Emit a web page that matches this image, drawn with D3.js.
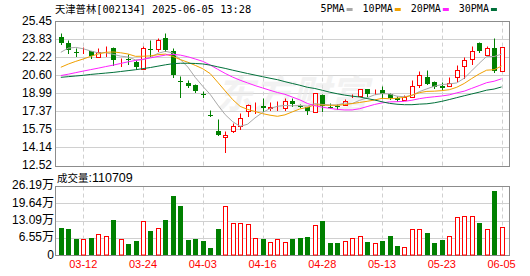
<!DOCTYPE html>
<html>
<head>
<meta charset="utf-8">
<script src="https://cdn.jsdelivr.net/npm/d3@7"></script>
<style>
body{margin:0;background:#fff;}
svg{display:block;}
</style>
</head>
<body>
<div class="chart"></div>
<script>
// -------------------------- DATA

var title = "天津普林[002134] 2025-06-05 13:28";
var volLabel = "成交量";
var volValue = ":110709";

var dates = ["03-07","03-10","03-11","03-12","03-13","03-14","03-17","03-18","03-19","03-20",
  "03-21","03-24","03-25","03-26","03-27","03-28","03-31","04-01","04-02","04-03",
  "04-07","04-08","04-09","04-10","04-11","04-14","04-15","04-16","04-17","04-18",
  "04-21","04-22","04-23","04-24","04-25","04-28","04-29","04-30","05-06","05-07",
  "05-08","05-09","05-12","05-13","05-14","05-15","05-16","05-19","05-20","05-21",
  "05-22","05-23","05-26","05-27","05-28","05-29","05-30","06-03","06-04","06-05"];

var opens = [24.05,23.47,22.72,22.73,22.73,22.25,22.88,23.03,21.88,22.05,
  21.81,21.16,22.98,22.93,23.98,22.79,20.06,19.95,19.75,18.92,
  17.02,15.63,15.09,15.63,16.02,17.42,18.12,17.89,17.70,17.81,
  17.63,18.30,17.88,17.72,17.27,18.85,17.80,17.83,17.96,18.71,
  18.73,19.33,19.06,19.26,18.88,18.52,18.37,18.67,19.71,20.43,
  20.03,19.66,19.66,20.46,21.45,22.04,23.53,22.43,23.00,21.00];

var highs = [24.42,23.80,23.02,23.09,22.77,23.04,23.24,23.12,22.14,22.46,
  22.01,23.20,23.76,23.98,24.34,23.02,20.55,20.16,19.78,19.21,
  17.48,16.67,15.63,16.37,17.18,18.07,18.25,18.55,18.25,18.34,
  18.52,18.54,18.00,17.75,18.99,18.88,18.16,18.01,18.46,18.90,
  19.40,19.38,19.35,19.62,19.03,18.73,18.82,20.22,20.96,21.03,
  20.07,20.04,20.46,21.50,22.25,23.18,23.56,23.24,23.98,23.10];

var lows = [23.38,22.55,22.34,22.55,22.15,22.25,22.34,21.52,21.43,21.65,
  21.18,21.12,22.31,22.79,22.73,20.46,18.61,19.55,19.06,18.61,
  16.98,15.24,13.76,15.55,15.77,16.97,17.20,17.42,17.47,17.53,
  17.45,17.86,17.72,17.12,17.27,17.42,17.65,17.62,17.94,18.61,
  18.70,18.73,18.90,18.58,18.43,18.34,18.37,18.67,19.53,19.80,
  19.42,19.30,19.66,20.10,20.34,21.59,22.64,22.40,20.91,20.95];

var closes = [23.48,22.85,22.68,22.73,22.35,22.64,22.88,21.99,21.92,21.95,
  21.36,23.00,22.98,23.78,22.85,20.61,20.02,19.62,19.15,18.88,
  16.99,15.29,15.27,16.02,16.76,17.96,18.12,17.71,17.73,17.83,
  18.30,18.00,17.85,17.42,18.99,17.87,17.80,17.80,18.32,18.75,
  19.33,18.94,19.10,18.88,18.58,18.37,18.67,19.68,20.58,19.86,
  19.52,19.42,19.95,21.05,21.98,22.79,22.79,23.02,21.00,23.10];

// volume, in 万
var volumes = [10.66,10.17,6.41,6.41,6.91,8.29,7.54,13.69,6.41,4.52,
  5.65,13.19,9.55,10.55,13.69,22.61,18.96,6.03,6.41,5.65,
  3.01,10.17,18.84,12.31,12.31,12.06,6.78,6.41,5.15,6.41,
  5.15,6.41,6.91,7.29,11.68,13.19,4.90,4.90,5.65,6.78,
  7.54,5.28,4.90,5.65,7.66,3.89,3.39,10.17,10.17,8.67,
  4.90,6.03,7.54,14.70,14.95,14.95,12.43,10.17,24.49,11.07];

var ma5 = [22.70,23.08,23.14,23.02,22.82,22.65,22.66,22.52,22.36,22.28,
  22.02,22.04,22.24,22.61,22.79,22.64,22.05,21.38,20.45,19.66,
  18.93,17.99,17.12,16.49,16.07,16.26,16.83,17.31,17.66,17.87,
  17.94,17.91,17.94,17.88,18.11,18.03,17.99,17.98,18.16,18.11,
  18.40,18.63,18.89,19.00,18.97,18.77,18.72,18.84,19.18,19.43,
  19.66,19.81,19.87,19.96,20.38,21.04,21.71,22.33,22.32,22.54];

var ma10 = [21.36,21.65,21.89,22.10,22.34,22.55,22.70,22.73,22.66,22.55,
  22.34,22.35,22.38,22.49,22.54,22.33,22.05,21.81,21.53,21.23,
  20.79,20.02,19.24,18.47,17.86,17.59,17.40,17.21,17.07,16.97,
  17.10,17.37,17.63,17.77,17.99,17.98,17.95,17.96,18.02,18.11,
  18.21,18.31,18.43,18.58,18.54,18.59,18.67,18.86,19.09,19.20,
  19.22,19.27,19.35,19.57,19.91,20.35,20.76,21.10,21.14,21.47];

var ma20 = [20.62,20.74,20.88,21.02,21.15,21.28,21.42,21.55,21.70,21.85,
  21.97,22.08,22.20,22.33,22.45,22.52,22.45,22.30,22.10,21.89,
  21.56,21.18,20.81,20.48,20.20,19.96,19.72,19.51,19.30,19.10,
  18.94,18.69,18.44,18.12,17.92,17.79,17.68,17.59,17.54,17.54,
  17.65,17.84,18.03,18.17,18.26,18.28,18.31,18.41,18.55,18.65,
  18.72,18.79,18.89,19.07,19.22,19.47,19.72,19.98,20.11,20.33];

var ma30 = [20.46,20.52,20.58,20.64,20.72,20.78,20.84,20.90,20.98,21.06,
  21.14,21.24,21.34,21.46,21.58,21.68,21.72,21.72,21.70,21.66,
  21.55,21.40,21.26,21.10,20.95,20.80,20.66,20.52,20.38,20.25,
  20.07,19.91,19.75,19.57,19.46,19.30,19.13,18.99,18.87,18.77,
  18.70,18.56,18.43,18.27,18.13,18.05,18.01,18.01,18.06,18.09,
  18.18,18.31,18.47,18.64,18.81,18.97,19.13,19.31,19.41,19.60];

var maNames = ["5PMA","10PMA","20PMA","30PMA"];
var priceTicks = [12.52,14.14,15.75,17.37,18.99,20.60,22.22,23.83,25.45];
var volTicks = [0,6.55,13.09,19.64,26.19];
var dateTicks = ["03-12","03-24","04-03","04-16","04-28","05-13","05-23","06-05"];

// -------------------------- LAYOUT

var width = 530, height = 276;
var left = 55, right = 509;
var priceTop = 21.6, priceBottom = 166;
var volTop = 186.5, volBottom = 256;

var upColor = "#ff0000", downColor = "#008000";
var maColors = ["#a8a8a8", "#f0a000", "#ff22ff", "#00703a"];
var gridColor = "#d0d0d0", frameColor = "#8c8c8c";
var labelFont = "'Liberation Sans', Arial, 'Noto Sans CJK SC', sans-serif";

var svg = d3.select(".chart").append("svg")
  .attr("width", width)
  .attr("height", height);

var idx = d3.range(dates.length);

var x = d3.scaleBand().domain(idx).range([57.1, 505.3]);
var y = d3.scaleLinear().domain([12.52, 25.45]).range([priceBottom, priceTop]);
var yVol = d3.scaleLinear().domain([0, 26.19]).range([volBottom, volTop]);

function cx(i){ return Math.round(x(i) + x.bandwidth()/2) + 0.5; }
function py(v){ return Math.floor(y(v)) + 0.5; }

// candle up/down, doji compared with previous close
var isUp = idx.map(function(i){
  if (closes[i] > opens[i]) return true;
  if (closes[i] < opens[i]) return false;
  return i > 0 ? closes[i] >= closes[i-1] : true;
});

// -------------------------- GRID

var grid = svg.append("g");

priceTicks.slice(1, -1).forEach(function(v){
  grid.append("line")
    .attr("x1", left).attr("x2", right)
    .attr("y1", py(v)).attr("y2", py(v))
    .attr("stroke", gridColor);
});

volTicks.slice(1, -1).forEach(function(v){
  var yy = Math.floor(yVol(v)) + 0.5;
  grid.append("line")
    .attr("x1", left).attr("x2", right)
    .attr("y1", yy).attr("y2", yy)
    .attr("stroke", gridColor);
});

var tickIdx = dateTicks.map(function(d){ return dates.indexOf(d); });

tickIdx.forEach(function(i){
  [[priceTop, priceBottom], [volTop, volBottom]].forEach(function(r){
    grid.append("line")
      .attr("x1", cx(i)).attr("x2", cx(i))
      .attr("y1", r[0]).attr("y2", r[1])
      .attr("stroke", gridColor)
      .attr("stroke-dasharray", "4,3");
  });
});

// watermark
svg.append("text")
  .attr("x", 292).attr("y", 108)
  .attr("text-anchor", "middle")
  .style("font-family", "'Noto Sans CJK SC'")
  .style("font-size", "38px")
  .style("font-weight", "bold")
  .style("font-style", "italic")
  .attr("fill", "#e8e8e8")
  .attr("opacity", 0.55)
  .text("东方财富");

// frames
svg.append("rect")
  .attr("x", left + 0.5).attr("y", Math.floor(priceTop) + 0.5)
  .attr("width", right - left).attr("height", Math.floor(priceBottom) - Math.floor(priceTop))
  .attr("fill", "none").attr("stroke", frameColor);

svg.append("rect")
  .attr("x", left + 0.5).attr("y", Math.floor(volTop) + 0.5)
  .attr("width", right - left).attr("height", Math.floor(volBottom) - Math.floor(volTop) - 1)
  .attr("fill", "none").attr("stroke", frameColor);

// -------------------------- CANDLES

var candles = svg.append("g").selectAll("g")
  .data(idx)
  .enter().append("g");

candles.append("line")
  .attr("x1", cx).attr("x2", cx)
  .attr("y1", function(i){ return py(highs[i]); })
  .attr("y2", function(i){ return py(lows[i]) + 0.5; })
  .attr("stroke", function(i){ return isUp[i] ? upColor : downColor; });

candles.append("rect")
  .attr("x", function(i){ return isUp[i] ? cx(i) - 2 : cx(i) - 2.5; })
  .attr("y", function(i){
    var t = py(Math.max(opens[i], closes[i]));
    return isUp[i] ? t : t - 0.5;
  })
  .attr("width", function(i){ return isUp[i] ? 4 : 5; })
  .attr("height", function(i){
    var h = py(Math.min(opens[i], closes[i])) - py(Math.max(opens[i], closes[i]));
    return isUp[i] ? h : Math.max(h, 1);
  })
  .attr("fill", function(i){ return isUp[i] ? "#fff" : downColor; })
  .attr("stroke", function(i){ return isUp[i] ? upColor : "none"; });

// -------------------------- MA LINES

[ma5, ma10, ma20, ma30].forEach(function(arr, k){
  var line = d3.line()
    .x(function(v, i){ return x(i) + x.bandwidth()/2; })
    .y(function(v){ return y(v); });
  svg.append("path")
    .attr("fill", "none")
    .attr("stroke", maColors[k])
    .attr("stroke-width", 1)
    .attr("d", line(arr));
});

// -------------------------- VOLUME

svg.append("g").selectAll("rect")
  .data(idx)
  .enter().append("rect")
    .attr("x", function(i){ return isUp[i] ? cx(i) - 2 : cx(i) - 2.5; })
    .attr("y", function(i){ return Math.round(yVol(volumes[i])) + (isUp[i] ? 0.5 : 0); })
    .attr("width", function(i){ return isUp[i] ? 4 : 5; })
    .attr("height", function(i){ return Math.floor(volBottom) - Math.round(yVol(volumes[i])) - (isUp[i] ? 1.5 : 1); })
    .attr("fill", function(i){ return isUp[i] ? "#fff" : downColor; })
    .attr("stroke", function(i){ return isUp[i] ? upColor : "none"; });

// -------------------------- AXES

var yAxis = d3.axisLeft(y)
  .tickValues(priceTicks)
  .tickSize(0)
  .tickPadding(3)
  .tickFormat(d3.format(".2f"));

var yAxisG = svg.append("g")
  .attr("transform", "translate(" + left + ",-1)")
  .call(yAxis);

var volAxis = d3.axisLeft(yVol)
  .tickValues(volTicks)
  .tickSize(0)
  .tickPadding(1)
  .tickFormat(function(d){ return d === 0 ? "0" : d.toFixed(2) + "万"; });

var volAxisG = svg.append("g")
  .attr("transform", "translate(" + left + ",-1.5)")
  .call(volAxis);

var xAxis = d3.axisBottom(x)
  .tickValues(tickIdx)
  .tickSize(0)
  .tickPadding(4)
  .tickFormat(function(i){ return dates[i]; });

var xAxisG = svg.append("g")
  .attr("transform", "translate(0," + volBottom + ")")
  .call(xAxis);

[yAxisG, volAxisG, xAxisG].forEach(function(g){
  g.select(".domain").remove();
  g.attr("font-family", null).attr("font-size", null);
  g.selectAll("text")
    .style("font-family", labelFont)
    .style("font-size", "12px")
    .attr("fill", "#000");
});
xAxisG.selectAll("text").style("font-size", "11px").attr("fill", "#f00");

// -------------------------- TITLES & LEGEND

svg.append("text")
  .attr("x", left).attr("y", 13)
  .style("font-family", "'DejaVu Sans Mono', 'Noto Sans CJK SC', monospace")
  .style("font-size", "10.3px")
  .attr("fill", "#000")
  .text(title);

var volTitle = svg.append("text")
  .attr("x", 57).attr("y", 181.5)
  .style("font-family", labelFont)
  .attr("fill", "#000");
volTitle.append("tspan").style("font-size", "10.5px").text(volLabel);
volTitle.append("tspan").style("font-size", "12.5px").text(volValue);

var legendX = 320.5;
maNames.forEach(function(name, k){
  var t = svg.append("text")
    .attr("x", legendX).attr("y", 12)
    .style("font-family", "'DejaVu Sans Mono', monospace")
    .style("font-size", "10px")
    .attr("fill", "#000")
    .text(name);
  var w = t.node().getComputedTextLength();
  svg.append("rect")
    .attr("x", legendX + w + 2).attr("y", 8)
    .attr("width", 6).attr("height", 3)
    .attr("fill", maColors[k]);
  legendX += w + 18;
});
</script>
</body>
</html>
